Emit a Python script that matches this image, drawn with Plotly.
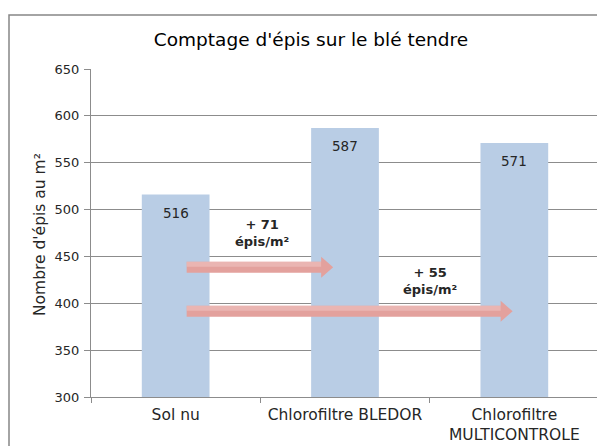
import plotly.graph_objects as go

# ---- data ----
categories = ["Sol nu", "Chlorofiltre BLEDOR", "Chlorofiltre<br>MULTICONTROLE"]
values = [516, 587, 571]
value_labels = ["516", "587", "571"]
y_ticks = [300, 350, 400, 450, 500, 550, 600, 650]

# comparison arrows: from category index -> to category index, gain label
arrow_from = [0, 0]
arrow_to = [1, 2]
arrow_labels = ["+ 71<br>épis/m²", "+ 55<br>épis/m²"]

# ---- styling / layout constants ----
BAR_COLOR = "#b9cde5"
ARROW_COLOR = "#e3a19d"
ARROW_LIGHT = "#efc3c0"
TEXT_COLOR = "#262626"
GRID_COLOR = "#8c8c8c"
FONT = "DejaVu Sans"
OFF = 8                      # page body margin
W, H = 605 - OFF, 446 - OFF
L, R, T, B = 91 - OFF, 6, 69 - OFF, 49
plot_w = W - L - R
plot_h = H - T - B
y_min, y_max = 300, 650
px_per_y = plot_h / (y_max - y_min)
px_per_cat = plot_w / 3.0

arrow_levels = [438.5, 391.5]          # vertical positions of arrows (axis units)
arrow_start_off = 0.065                 # start offset from source category centre
arrow_end_off = [-0.07, -0.01]          # tip offset from target category centre
label_pos = [(0.51, 475), (1.5, 424)]

fig = go.Figure()
fig.add_trace(go.Bar(
    x=categories, y=values, marker=dict(color=BAR_COLOR, line=dict(width=0)),
    width=0.4, hoverinfo="skip",
))

shapes = []
annotations = []

# value labels inside bar tops
for cat, v, lab in zip(categories, values, value_labels):
    annotations.append(dict(
        x=cat, y=v, xref="x", yref="y", text=lab, showarrow=False,
        yanchor="middle", yshift=-18,
        font=dict(family=FONT, size=13.5, color=TEXT_COLOR),
    ))

shaft_half = 5.5 / px_per_y
head_half = 10.5 / px_per_y
head_len = 12 / px_per_cat
for i in range(len(arrow_from)):
    x0 = arrow_from[i] + arrow_start_off
    x1 = arrow_to[i] + arrow_end_off[i]
    yc = arrow_levels[i]
    xh = x1 - head_len
    path = (f"M {x0},{yc - shaft_half} L {xh},{yc - shaft_half} L {xh},{yc - head_half} "
            f"L {x1},{yc} L {xh},{yc + head_half} L {xh},{yc + shaft_half} "
            f"L {x0},{yc + shaft_half} Z")
    shapes.append(dict(type="path", path=path, xref="x", yref="y",
                       fillcolor=ARROW_COLOR, line=dict(width=0), layer="above"))
    hl = (f"M {x0},{yc + shaft_half * 0.1} L {xh},{yc + shaft_half * 0.1} "
          f"L {xh},{yc + shaft_half} L {x0},{yc + shaft_half} Z")
    shapes.append(dict(type="path", path=hl, xref="x", yref="y",
                       fillcolor=ARROW_LIGHT, opacity=0.6, line=dict(width=0), layer="above"))
    annotations.append(dict(
        x=label_pos[i][0], y=label_pos[i][1], xref="x", yref="y",
        text=f"<b>{arrow_labels[i]}</b>", showarrow=False,
        font=dict(family=FONT, size=13, color=TEXT_COLOR),
        align="center",
    ))

# outer chart frame (reference pixels: left 9, top 15)
shapes.append(dict(type="rect", xref="paper", yref="paper",
                   x0=(9 - OFF - L) / plot_w, x1=1.2,
                   y0=-0.5, y1=(H - B - (15 - OFF)) / plot_h,
                   line=dict(color="#868686", width=1.5), fillcolor="rgba(0,0,0,0)",
                   layer="below"))

annotations.append(dict(
    x=(40 - OFF - L) / plot_w, y=(H - B - (235 - OFF)) / plot_h, xref="paper", yref="paper",
    text="Nombre d'épis au m²", textangle=-90, showarrow=False,
    font=dict(family=FONT, size=15.5, color=TEXT_COLOR),
    xanchor="center", yanchor="middle",
))

fig.update_layout(
    width=W, height=H,
    margin=dict(l=L, r=R, t=T, b=B, autoexpand=False),
    paper_bgcolor="white", plot_bgcolor="white",
    title=dict(text="Comptage d'épis sur le blé tendre",
               x=(311 - OFF) / W, xanchor="center", y=1 - (40 - OFF) / H, yanchor="middle",
               font=dict(family=FONT, size=18.5, color="#000000")),
    showlegend=False,
    shapes=shapes,
    annotations=annotations,
    bargap=0.6,
)
fig.update_xaxes(
    type="category", range=[-0.5, 2.5], automargin=False,
    showline=True, linecolor=GRID_COLOR, linewidth=1,
    ticks="outside", tickson="boundaries", ticklen=5, tickcolor=GRID_COLOR,
    tickfont=dict(family=FONT, size=15.5, color=TEXT_COLOR),
    ticklabelstandoff=3,
    showgrid=False,
)
fig.update_yaxes(
    range=[y_min, y_max], tickvals=y_ticks, automargin=False,
    showline=True, linecolor=GRID_COLOR, linewidth=1,
    ticks="outside", ticklen=6, tickcolor=GRID_COLOR,
    showgrid=True, gridcolor=GRID_COLOR, gridwidth=1,
    tickfont=dict(family=FONT, size=13, color=TEXT_COLOR),
    ticklabelstandoff=2,
    zeroline=False,
)

fig.write_html("out.html")
